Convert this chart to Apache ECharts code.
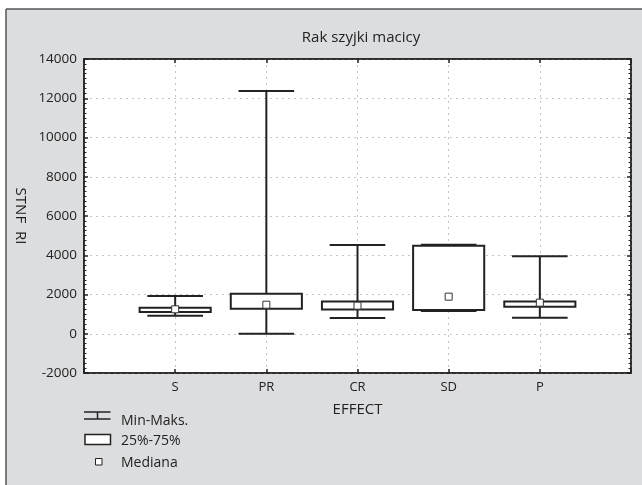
<!DOCTYPE html>
<html>
<head>
<meta charset="utf-8">
<script src="https://cdn.jsdelivr.net/npm/echarts@6/dist/echarts.min.js"></script>
<style>
html,body{margin:0;padding:0;background:#fff;}
#c{width:642px;height:485px;}
</style>
</head>
<body>
<div id="c"></div>
<script>
const categories = ['S', 'PR', 'CR', 'SD', 'P'];
const minVals    = [920,  0,     800,  1160, 820];
const q1Vals     = [1110, 1280,  1230, 1210, 1380];
const medianVals = [1245, 1480,  1430, 1890, 1585];
const q3Vals     = [1330, 2040,  1640, 4490, 1640];
const maxVals    = [1925, 12370, 4520, 4530, 3945];
const yTicks = { min: -2000, max: 14000, interval: 2000 };
const legendLabels = ['Min-Maks.', '25%-75%', 'Mediana'];

const FONT = 'Open Sans';
const DARK = '#222';

const boxData = categories.map((c, i) => [i + 1, minVals[i], q1Vals[i], medianVals[i], q3Vals[i], maxVals[i]]);
const medData = categories.map((c, i) => [i + 1, medianVals[i]]);

const chart = echarts.init(document.getElementById('c'), null, { renderer: 'canvas' });

const gridCommon = { left: 84, top: 59, right: 11, bottom: 112 };
const legendFont = '14px "Open Sans"';

chart.setOption({
  backgroundColor: '#fff',
  animation: false,
  textStyle: { fontFamily: FONT },
  title: {
    text: 'Rak szyjki macicy',
    left: 356, top: 25, textAlign: 'center',
    textStyle: { fontFamily: FONT, fontSize: 15, fontWeight: 'normal', color: DARK }
  },
  graphic: [
    { type: 'rect', z: -10, silent: true, shape: { x: 6, y: 9, width: 640, height: 480 }, style: { fill: '#dcdddf' } },
    { type: 'line', z: -9, silent: true, shape: { x1: 6, y1: 9, x2: 642, y2: 9 }, style: { stroke: '#555', lineWidth: 1.5 } },
    { type: 'line', z: -9, silent: true, shape: { x1: 6, y1: 9, x2: 6, y2: 485 }, style: { stroke: '#555', lineWidth: 1.5 } },
    // legend: whisker icon
    { type: 'line', shape: { x1: 84, y1: 412, x2: 110.5, y2: 412 }, style: { stroke: DARK, lineWidth: 1.5 } },
    { type: 'line', shape: { x1: 97.5, y1: 412, x2: 97.5, y2: 419 }, style: { stroke: DARK, lineWidth: 1.5 } },
    { type: 'line', shape: { x1: 84, y1: 419, x2: 110.5, y2: 419 }, style: { stroke: DARK, lineWidth: 1.5 } },
    { type: 'text', style: { x: 121, y: 421, text: legendLabels[0], fill: DARK, font: legendFont, textVerticalAlign: 'middle' } },
    // legend: box icon
    { type: 'rect', shape: { x: 85, y: 434.5, width: 25.5, height: 10 }, style: { fill: '#fff', stroke: DARK, lineWidth: 1.5 } },
    { type: 'text', style: { x: 121, y: 441, text: legendLabels[1], fill: DARK, font: legendFont, textVerticalAlign: 'middle' } },
    // legend: median icon
    { type: 'rect', shape: { x: 95.5, y: 458.5, width: 6.5, height: 6.5 }, style: { fill: '#fff', stroke: DARK, lineWidth: 1 } },
    { type: 'text', style: { x: 121, y: 463, text: legendLabels[2], fill: DARK, font: legendFont, textVerticalAlign: 'middle' } }
  ],
  grid: Object.assign({ show: true, backgroundColor: '#fff', borderColor: DARK, borderWidth: 1.5 }, gridCommon),
  xAxis: [
    {
      type: 'value', min: 0, max: categories.length + 1, interval: 1, position: 'bottom',
      name: 'EFFECT', nameLocation: 'middle', nameGap: 29,
      nameTextStyle: { fontFamily: FONT, fontSize: 15, color: DARK },
      axisLine: { show: true, onZero: false, lineStyle: { color: DARK, width: 1.5 } },
      axisTick: { show: true, inside: true, length: 4, lineStyle: { color: DARK, width: 1.5 } },
      axisLabel: {
        margin: 8, fontFamily: FONT, fontSize: 13, color: DARK,
        formatter: v => (v >= 1 && v <= categories.length) ? categories[v - 1] : ''
      },
      splitLine: { show: true, lineStyle: { color: '#c4c4c4', type: [2, 4], width: 1 } }
    },
    {
      type: 'value', min: 0, max: categories.length + 1, interval: 1, position: 'top',
      axisLine: { show: true, onZero: false, lineStyle: { color: DARK, width: 1.5 } },
      axisTick: { show: true, inside: true, length: 4, lineStyle: { color: DARK, width: 1.5 } },
      axisLabel: { show: false }, splitLine: { show: false }
    }
  ],
  yAxis: [
    {
      type: 'value', min: yTicks.min, max: yTicks.max, interval: yTicks.interval, position: 'left',
      name: 'STNF  RI', nameLocation: 'middle', nameGap: 55, nameRotate: -90,
      nameTextStyle: { fontFamily: FONT, fontSize: 15, color: DARK },
      axisLine: { show: true, onZero: false, lineStyle: { color: DARK, width: 1.5 } },
      axisTick: { show: true, inside: true, length: 4, lineStyle: { color: DARK, width: 1.5 } },
      minorTick: { show: true, splitNumber: 8, length: 2.5, lineStyle: { color: DARK, width: 1 } },
      axisLabel: { margin: 7, fontFamily: FONT, fontSize: 13.5, color: DARK, formatter: v => String(v) },
      splitLine: { show: true, lineStyle: { color: '#c4c4c4', type: [2, 4], width: 1 } }
    },
    {
      type: 'value', min: yTicks.min, max: yTicks.max, interval: yTicks.interval, position: 'right',
      axisLine: { show: true, onZero: false, lineStyle: { color: DARK, width: 1.5 } },
      axisTick: { show: true, inside: true, length: 4, lineStyle: { color: DARK, width: 1.5 } },
      minorTick: { show: true, splitNumber: 8, length: 2.5, lineStyle: { color: DARK, width: 1 } },
      axisLabel: { show: false }, splitLine: { show: false }
    }
  ],
  series: [
    {
      type: 'custom', name: 'box', xAxisIndex: 0, yAxisIndex: 0,
      encode: { x: 0, y: [1, 2, 3, 4, 5] },
      data: boxData,
      renderItem: function (params, api) {
        const x = api.value(0);
        const slot = api.size([1, 0])[0];
        const capW = slot * 0.61, boxW = slot * 0.78;
        const pMin = api.coord([x, api.value(1)]);
        const pQ1 = api.coord([x, api.value(2)]);
        const pQ3 = api.coord([x, api.value(4)]);
        const pMax = api.coord([x, api.value(5)]);
        const cx = pMin[0];
        const ls = { stroke: DARK, lineWidth: 2 };
        return {
          type: 'group',
          children: [
            { type: 'line', shape: { x1: cx, y1: pMin[1], x2: cx, y2: pMax[1] }, style: ls },
            { type: 'line', shape: { x1: cx - capW / 2, y1: pMin[1], x2: cx + capW / 2, y2: pMin[1] }, style: ls },
            { type: 'line', shape: { x1: cx - capW / 2, y1: pMax[1], x2: cx + capW / 2, y2: pMax[1] }, style: ls },
            { type: 'rect', shape: { x: cx - boxW / 2, y: pQ3[1], width: boxW, height: pQ1[1] - pQ3[1] },
              style: { fill: '#fff', stroke: DARK, lineWidth: 2 } }
          ]
        };
      },
      z: 3
    },
    {
      type: 'scatter', name: 'median', xAxisIndex: 0, yAxisIndex: 0,
      data: medData, symbol: 'rect', symbolSize: 7,
      itemStyle: { color: '#fff', borderColor: '#333', borderWidth: 1, opacity: 1 },
      z: 5
    }
  ]
});
</script>
</body>
</html>
